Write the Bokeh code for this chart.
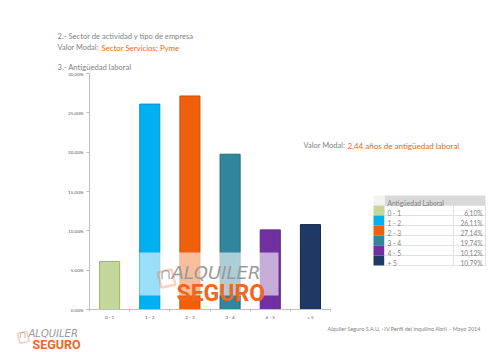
from bokeh.plotting import figure
from bokeh.models import (Range1d, CustomJSTickFormatter, FixedTicker,
                          Label, BoxAnnotation, PolyAnnotation, ColumnDataSource)
from bokeh.embed import file_html
from bokeh.resources import INLINE

# ---- data ----
categories = ["0 - 1", "1 - 2", "2 - 3", "3 - 4", "4 - 5", "+ 5"]
values = [6.10, 26.11, 27.14, 19.74, 10.12, 10.79]
value_labels = ["6,10%", "26,11%", "27,14%", "19,74%", "10,12%", "10,79%"]
bar_colors = ["#c4d79b", "#00b0f0", "#f0600a", "#31859c", "#7030a0", "#1f3864"]
bar_lines = ["#9bbb59", "#0093c9", "#c94f08", "#276b7e", "#5a2680", "#152848"]
y_ticks = [0, 5, 10, 15, 20, 25, 30]
y_max = 30

# ---- layout (pixels) ----
W, H = 500, 352
X0, CW = 89, 40.17          # y-axis position and category width
Y0, YT = 309, 73            # pixel rows of 0 % and of the top tick
FONT = "Lato"
GRAY = "#7f7f7f"
ORANGE = "#e46c0a"
LOGO = "#f26522"
LOGO_GRAY = "#9a9a9a"

n = len(categories)
sy = y_max / (Y0 - YT)
p = figure(width=W, height=H,
           x_range=Range1d(-X0 / CW, (W - X0) / CW),
           y_range=Range1d(-(H - Y0) * sy, y_max + YT * sy),
           output_backend="svg", toolbar_location=None,
           min_border=0, min_border_left=0, min_border_right=0,
           min_border_top=0, min_border_bottom=0)
p.outline_line_color = None
p.xgrid.grid_line_color = None
p.ygrid.grid_line_color = None
p.background_fill_color = "white"
p.border_fill_color = "white"

xpos = [i + 0.5 for i in range(n)]
src = ColumnDataSource(dict(x=xpos, cat=categories, val=values, fill=bar_colors, line=bar_lines))
p.vbar(x="x", top="val", width=0.5, source=src, fill_color="fill",
       line_color="line", line_width=1)

# y axis
ya = p.yaxis[0]
ya.fixed_location = 0
ya.bounds = (0, y_max)
ya.ticker = FixedTicker(ticks=y_ticks)
ya.formatter = CustomJSTickFormatter(code="return tick.toFixed(2).replace('.', ',') + '%';")
ya.minor_tick_line_color = None
ya.major_tick_in = 0
ya.major_tick_out = 3
ya.axis_line_color = "#bfbfbf"
ya.major_tick_line_color = "#bfbfbf"
ya.major_label_text_font = FONT
ya.major_label_text_font_size = "4.6px"
ya.major_label_text_color = "#595959"
ya.major_label_standoff = 3

# x axis
xa = p.xaxis[0]
xa.fixed_location = 0
xa.bounds = (0, n)
xa.ticker = FixedTicker(ticks=xpos, minor_ticks=list(range(n + 1)))
xa.formatter = CustomJSTickFormatter(args=dict(labels=categories),
                                     code="const i = Math.round(tick - 0.5); return labels[i] || '';")
xa.axis_line_color = "#bfbfbf"
xa.major_tick_line_color = None
xa.major_tick_out = 0
xa.major_tick_in = 0
xa.minor_tick_line_color = "#bfbfbf"
xa.minor_tick_in = 0
xa.minor_tick_out = 2
xa.major_label_text_font = FONT
xa.major_label_text_font_size = "4.6px"
xa.major_label_text_color = "#595959"
xa.major_label_standoff = 2

U = "canvas"


def lab(x, ytop, text, size, color=GRAY, style="normal", align="left",
        font=FONT, alpha=1.0):
    p.add_layout(Label(x=x, y=ytop, x_units=U, y_units=U, text=text,
                       text_font=font, text_font_size=f"{size}px", text_color=color,
                       text_alpha=alpha, text_font_style=style, text_align=align,
                       text_baseline="alphabetic", level="overlay"))


def box(l, r, t, b, fill, alpha=1.0, line=None):
    p.add_layout(BoxAnnotation(left=l, right=r, top=t, bottom=b,
                               left_units=U, right_units=U,
                               top_units=U, bottom_units=U,
                               fill_color=fill, fill_alpha=alpha,
                               line_color=line, line_alpha=1.0 if line else 0,
                               line_width=0.7,
                               level="overlay"))


def lock(x, y, s):
    # open padlock: orange body outline and gray shackle
    p.add_layout(PolyAnnotation(xs=[x, x + 14 * s, x + 18 * s, x + 4 * s],
                                ys=[y + 3 * s, y, y + 15 * s, y + 18 * s],
                                xs_units=U, ys_units=U, fill_alpha=0,
                                line_color=LOGO, line_width=2.5 * s, level="overlay"))
    lab(x + 3 * s, y + 3 * s, "∩", 17 * s, LOGO_GRAY)


# header texts
lab(57, 35, "2.- Sector de actividad y tipo de empresa", 7.6)
lab(57, 47, "Valor Modal:", 7.4)
lab(101, 47, "Sector Servicios; Pyme", 7.8, ORANGE)
lab(57, 66, "3.- Antigüedad laboral", 7.6)

# modal value text
lab(303, 145, "Valor Modal:", 7.5)
lab(347, 145, "2,44 años de antigüedad laboral", 8, ORANGE)

# footer
lab(327, 328, "Alquiler Seguro S.A.U. · IV Perfil del inquilino Abril – Mayo 2014", 5.5)

# watermark band
box(139, 278, 252, 295, "white", 0.6)
lock(157, 269, 1.0)
lab(171, 272, "ALQUILER", 18, LOGO_GRAY, "italic", font="DejaVu Sans")
lab(176, 293, "SEGURO", 23, LOGO, "bold", font="Roboto")

# bottom-left logo
lock(17, 331, 0.65)
lab(28, 333, "ALQUILER", 10, LOGO_GRAY, "italic", font="DejaVu Sans")
lab(32, 344, "SEGURO", 12.5, LOGO, "bold", font="Roboto")

# legend table
tx0, tx1, tsep, tx2 = 373, 384, 453, 485
ht, row_h = 195, 10
box(tx1, tx2, ht, ht + 10, "#d9d9d9")
box(tx0, tx1, ht, ht + 10, "#f2f2f2")
for i, col in enumerate(bar_colors):
    t = ht + 10 + i * row_h
    box(tx0, tx1, t, t + row_h, col)
    box(tx1, tsep, t, t + row_h, "white", 1.0, "#d9d9d9")
    box(tsep, tx2, t, t + row_h, "white", 1.0, "#d9d9d9")
lab(387, ht + 7.5, "Antigüedad Laboral", 6.6, GRAY)
for i, (c, v) in enumerate(zip(categories, value_labels)):
    t = ht + 10 + i * row_h
    lab(387, t + 7.3, c, 6.6, GRAY)
    lab(482, t + 7.3, v, 6.6, GRAY, align="right")

open("out.html", "w").write(file_html(p, INLINE))
